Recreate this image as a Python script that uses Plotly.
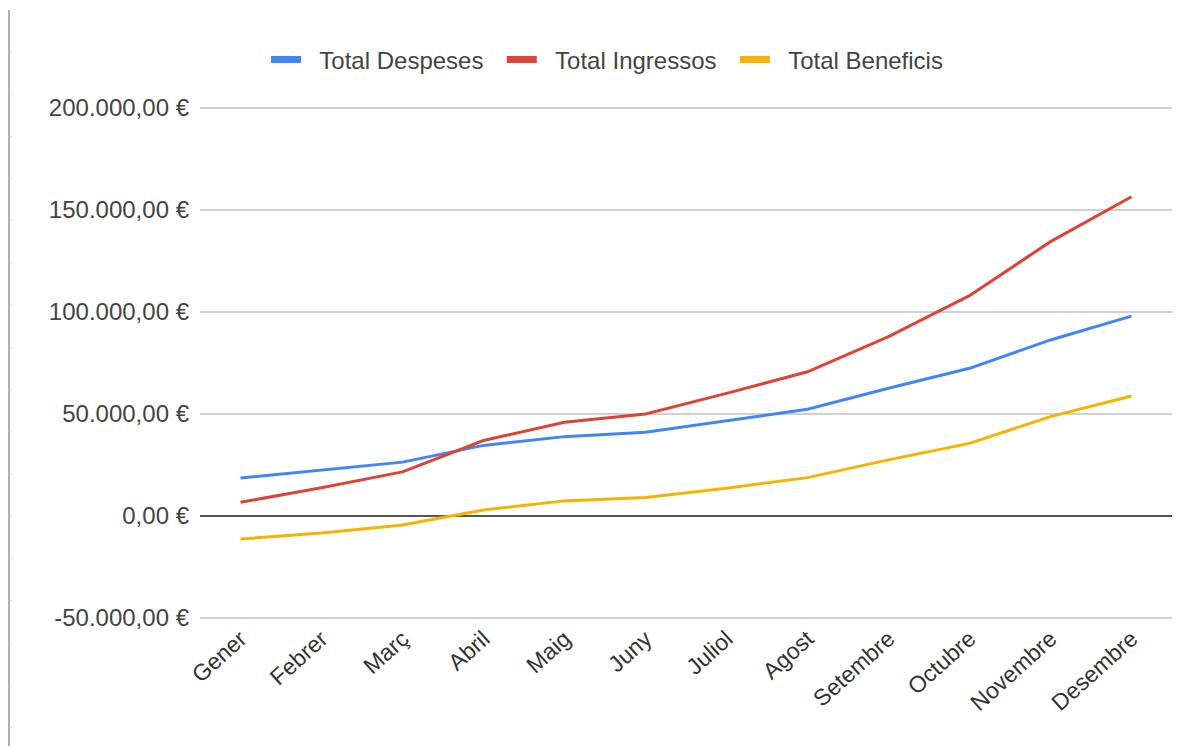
import plotly.graph_objects as go

months = ["Gener", "Febrer", "Març", "Abril", "Maig", "Juny", "Juliol",
          "Agost", "Setembre", "Octubre", "Novembre", "Desembre"]
despeses = [18600, 22400, 26400, 34600, 38900, 41000, 46700, 52300, 62600, 72400, 86300, 98000]
ingressos = [6700, 13800, 21600, 37000, 45900, 50000, 60100, 70700, 87900, 108000, 134500, 156500]
beneficis = [-11300, -8400, -4400, 2900, 7400, 9100, 13600, 18800, 27500, 35600, 48700, 58800]

series_names = ["Total Despeses", "Total Ingressos", "Total Beneficis"]
series_colors = ["#4285F4", "#DB4437", "#F4B400"]

ytick_vals = [-50000, 0, 50000, 100000, 150000, 200000]
ytick_text = ["-50.000,00 €", "0,00 €", "50.000,00 €", "100.000,00 €", "150.000,00 €", "200.000,00 €"]

FONT = "Liberation Sans, Arial, sans-serif"
NB = "\u00a0"

fig = go.Figure()
for name, vals, col in zip(series_names, [despeses, ingressos, beneficis], series_colors):
    fig.add_trace(go.Scatter(x=months, y=vals, mode="lines", name=name,
                             line=dict(color=col, width=3), showlegend=False))
    # legend-only entry with a thick short swatch
    fig.add_trace(go.Scatter(x=[None], y=[None], mode="lines",
                             name=NB * 2 + name + NB * 2,
                             line=dict(color=col, width=7), showlegend=True))

W, H = 1200, 746
ml, mr, mt, mb = 200, 28, 106, 126
pw, ph = W - ml - mr, H - mt - mb

def px_x(x):
    return (x - ml) / pw

def px_y(y):
    return (H - mb - y) / ph

shapes = [dict(type="line", xref="paper", yref="paper",
               x0=px_x(9), x1=px_x(9), y0=px_y(10), y1=px_y(746),
               line=dict(color="#b0b0b0", width=2))]
for i in range(18):
    yy = 52 + 42.2 * i
    shapes.append(dict(type="line", xref="paper", yref="paper",
                       x0=px_x(9), x1=px_x(12), y0=px_y(yy), y1=px_y(yy),
                       line=dict(color="#d8d8d8", width=1)))

fig.update_layout(
    width=W, height=H,
    margin=dict(l=ml, r=mr, t=mt, b=mb),
    paper_bgcolor="white", plot_bgcolor="white",
    font=dict(family=FONT, size=24, color="#444444"),
    legend=dict(orientation="h", x=px_x(614), xanchor="center",
                y=px_y(60), yanchor="middle",
                font=dict(family=FONT, size=24, color="#444444"),
                itemwidth=30, bgcolor="rgba(0,0,0,0)"),
    shapes=shapes,
    xaxis=dict(type="category", range=[-0.5, 11.5], tickangle=-42,
               showgrid=False, showline=False, zeroline=False, ticks="",
               tickfont=dict(family=FONT, size=23, color="#333333")),
    yaxis=dict(range=[-51000, 201000], tickvals=ytick_vals, ticktext=ytick_text,
               showgrid=True, gridcolor="#d0d0d0", gridwidth=2,
               zeroline=True, zerolinecolor="#555555", zerolinewidth=2,
               showline=False, ticks="", ticklabelstandoff=10,
               tickfont=dict(family=FONT, size=24, color="#444444")),
)

fig.write_html("out.html")
